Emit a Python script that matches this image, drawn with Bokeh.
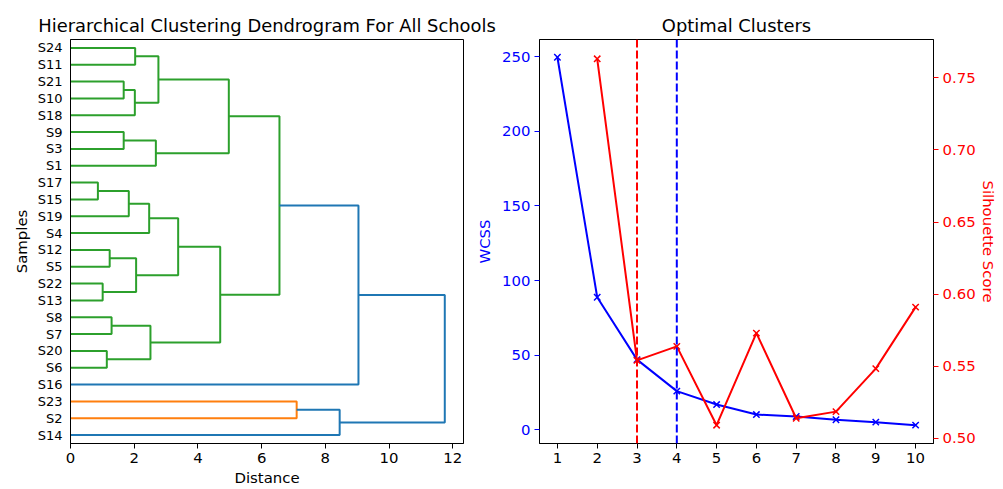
from bokeh.plotting import figure
from bokeh.layouts import row
from bokeh.models import (Range1d, LinearAxis, FixedTicker, Span, ColumnDataSource,
                          PrintfTickFormatter)
from bokeh.embed import file_html
from bokeh.resources import INLINE

# ---------------- data ----------------
# dendrogram leaves (bottom -> top)
leaves = ["S14", "S2", "S23", "S16", "S6", "S20", "S7", "S8", "S13", "S22", "S5", "S12",
          "S4", "S19", "S15", "S17", "S1", "S3", "S9", "S18", "S10", "S21", "S11", "S24"]
# merges: node name, child a, child b, distance, colour key
merge_node = ["n0", "n1", "n2", "n3", "n4", "n5", "n6", "n7", "n8", "n9", "n10", "n11",
              "n12", "n13", "n14", "n15", "n16", "n17", "n18", "n19", "n20", "n21", "n22"]
merge_a = ["S17", "S22", "S20", "S12", "S8", "S21", "S9", "n0", "S24", "n5", "n3", "n7",
           "n4", "n6", "n8", "n11", "n15", "n14", "n17", "S23", "n18", "n19", "n20"]
merge_b = ["S15", "S13", "S6", "S5", "S7", "S10", "S3", "S19", "S11", "S18", "n1", "S4",
           "n2", "S1", "n9", "n10", "n12", "n13", "n16", "S2", "S16", "S14", "n21"]
merge_dist = [0.86, 1.01, 1.14, 1.23, 1.29, 1.67, 1.67, 1.83, 2.03, 2.02, 2.06, 2.47,
              2.51, 2.68, 2.76, 3.38, 4.70, 4.97, 6.56, 7.10, 9.04, 8.45, 11.75]
merge_color = ["C2"] * 19 + ["C1", "C0", "C0", "C0"]

# elbow / silhouette
k_values = [1, 2, 3, 4, 5, 6, 7, 8, 9, 10]
wcss = [249.6, 88.8, 47.0, 25.9, 16.9, 10.2, 8.9, 6.7, 5.1, 3.1]
sil_k = [2, 3, 4, 5, 6, 7, 8, 9, 10]
sil_score = [0.7631, 0.5541, 0.5638, 0.5092, 0.5730, 0.5140, 0.5186, 0.5484, 0.5910]
best_k_silhouette = 3
best_k_elbow = 4

wcss_ticks = [0, 50, 100, 150, 200, 250]
sil_ticks = [0.50, 0.55, 0.60, 0.65, 0.70, 0.75]
dist_ticks = [0, 2, 4, 6, 8, 10, 12]

palette = {"C0": "#1f77b4", "C1": "#ff7f0e", "C2": "#2ca02c"}
FONT = "DejaVu Sans"

# ---------------- dendrogram ----------------
pos = {name: 5 + 10 * i for i, name in enumerate(leaves)}
height = {name: 0.0 for name in leaves}
xs, ys, cols = [], [], []
for node, a, b, d, c in zip(merge_node, merge_a, merge_b, merge_dist, merge_color):
    xs.append([height[a], d, d, height[b]])
    ys.append([pos[a], pos[a], pos[b], pos[b]])
    cols.append(palette[c])
    pos[node] = (pos[a] + pos[b]) / 2
    height[node] = d

max_d = max(merge_dist)
p1 = figure(width=505, height=489, output_backend="svg", toolbar_location=None,
            x_range=Range1d(0, max_d * 1.05), y_range=Range1d(0, 10 * len(leaves)),
            min_border_left=70, min_border_right=42, min_border_top=39, min_border_bottom=45)
p1.multi_line(xs="xs", ys="ys", line_color="color", line_width=2,
              source=ColumnDataSource(dict(xs=xs, ys=ys, color=cols)))

p1.title.text = "Hierarchical Clustering Dendrogram For All Schools"
p1.xaxis.axis_label = "Distance"
p1.yaxis.axis_label = "Samples"
p1.xaxis.ticker = FixedTicker(ticks=dist_ticks)
p1.yaxis.ticker = FixedTicker(ticks=[5 + 10 * i for i in range(len(leaves))])
p1.yaxis.major_label_overrides = {5 + 10 * i: n for i, n in enumerate(leaves)}

# ---------------- optimal clusters ----------------
p2 = figure(width=533, height=489, output_backend="svg", toolbar_location=None,
            x_range=Range1d(0.55, 10.45), y_range=Range1d(-9.2, 261.5),
            min_border_left=69, min_border_right=70, min_border_top=39, min_border_bottom=45)
p2.margin = (0, 0, 0, -35)
p2.border_fill_alpha = 0
p2.extra_y_ranges = {"sil": Range1d(0.4965, 0.7765)}
p2.line(k_values, wcss, line_color="blue", line_width=2)
p2.scatter(k_values, wcss, marker="x", size=9, line_color="blue", line_width=1.5)
p2.line(sil_k, sil_score, line_color="red", line_width=2, y_range_name="sil")
p2.scatter(sil_k, sil_score, marker="x", size=9, line_color="red", line_width=1.5,
           y_range_name="sil")
p2.add_layout(Span(location=best_k_silhouette, dimension="height", line_color="red",
                   line_dash="8 3", line_width=2))
p2.add_layout(Span(location=best_k_elbow, dimension="height", line_color="blue",
                   line_dash="8 3", line_width=2))

raxis = LinearAxis(y_range_name="sil", axis_label="Silhouette Score",
                   ticker=FixedTicker(ticks=sil_ticks),
                   formatter=PrintfTickFormatter(format="%.2f"))
p2.add_layout(raxis, "right")
p2.title.text = "Optimal Clusters"
p2.xaxis.ticker = FixedTicker(ticks=k_values)
p2.yaxis[0].ticker = FixedTicker(ticks=wcss_ticks)
p2.yaxis[0].axis_label = "WCSS"
for ax, col in ((p2.yaxis[0], "blue"), (raxis, "red")):
    ax.major_label_text_color = col
    ax.major_tick_line_color = col
    ax.axis_label_text_color = col

# ---------------- common styling ----------------
for p in (p1, p2):
    p.xgrid.visible = False
    p.ygrid.visible = False
    p.outline_line_color = "black"
    p.outline_line_width = 1
    p.outline_line_alpha = 1
    p.title.align = "center"
    p.title.text_font = FONT
    p.title.text_font_size = "17.9px"
    p.title.text_font_style = "normal"
    p.title.text_color = "black"
    p.title.standoff = 8
    for ax in p.xaxis + p.yaxis:
        ax.axis_line_color = "black"
        ax.axis_line_width = 1
        ax.minor_tick_line_color = None
        ax.major_tick_in = 0
        ax.major_tick_out = 5
        ax.major_label_standoff = 4
        ax.axis_label_text_font = FONT
        ax.axis_label_text_font_size = "14.9px"
        ax.axis_label_text_font_style = "normal"
        ax.major_label_text_font = FONT
        ax.major_label_text_font_size = "14.9px"
        ax.axis_label_standoff = 3
    for ax in p.xaxis:
        ax.major_label_text_color = "black"
        ax.axis_label_text_color = "black"

p1.yaxis.major_tick_out = 0
p1.yaxis.major_label_standoff = 8
p1.yaxis.major_label_text_font_size = "13px"
p1.yaxis.major_label_text_color = "black"
p1.yaxis.axis_label_text_color = "black"
p1.yaxis.axis_label_standoff = 4
p2.yaxis[0].axis_label_standoff = 5
raxis.axis_label_standoff = 0

layout = row(p1, p2)
open("out.html", "w").write(file_html(layout, INLINE))
